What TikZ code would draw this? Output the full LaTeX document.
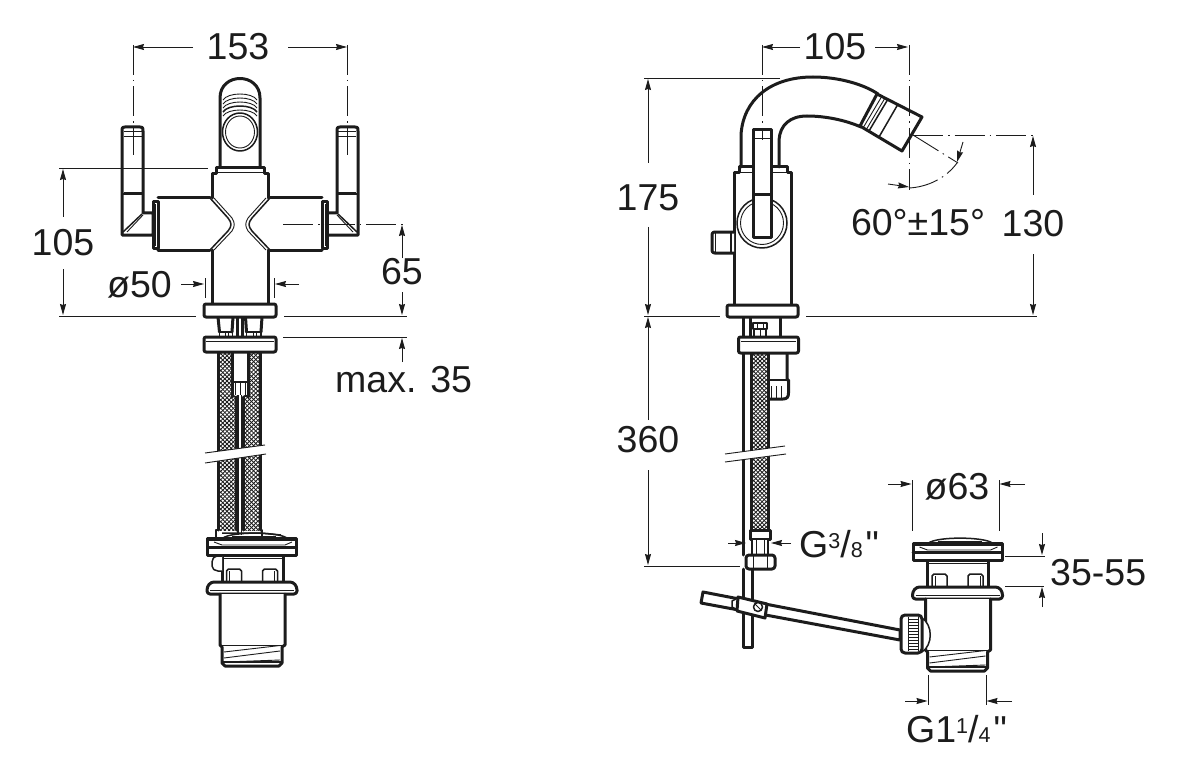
\documentclass[tikz,border=0pt]{standalone}
\usepackage{fontspec}
\setmainfont{Liberation Sans}
\newfontfamily\plainfont{Liberation Sans}
\usetikzlibrary{arrows.meta}
\definecolor{ink}{HTML}{1C1C1C}
\newcommand{\dimfont}{\fontsize{37.5}{37.5}\selectfont}
\newcommand{\smallfig}{\fontsize{21.5}{21.5}\selectfont}
\newcommand{\inchmark}{\hspace{3pt}{\plainfont\dimfont"}}
\tikzset{
  hv/.style={draw=ink,line width=3pt,line join=round,line cap=round},
  md/.style={draw=ink,line width=1.5pt,line join=round},
  tn/.style={draw=ink,line width=0.9pt},
  dimline/.style={draw=ink,line width=0.9pt},
  arr/.style={dimline,-{Stealth[length=11pt,width=6pt,inset=1pt]}},
  cen/.style={draw=ink,line width=0.9pt,dash pattern=on 30pt off 5pt on 1.5pt off 5pt},
  lab/.style={text=ink,inner sep=0pt,font=\dimfont},
}
% braided hose rectangle: x1 y1 x2 y2
\newcommand{\meshrect}[4]{%
  \begin{scope}
    \clip (#1,#2) rectangle (#3,#4);
    \fill[white] (#1,#2) rectangle (#3,#4);
    \foreach \k in {-50,...,50}{
      \draw[ink,line width=0.8pt] ({#1+\k*4.2},#2) -- ++(200,200);
      \draw[ink,line width=0.8pt] ({#3-\k*4.2},#2) -- ++(-200,200);
    }
  \end{scope}
}
% pop-up waste, drawn at the left-hand position
\newcommand{\wasteunit}{%
  \draw[hv,fill=white] (222,555) -- (222,582) -- (283,582) -- (283,555) -- cycle;
  \draw[tn] (222,558) -- (283,558);
  \draw[md] (226.5,582) -- (226.5,571) -- ++(2,-2) -- (239.5,569) -- ++(2,2) -- (241.5,582);
  \draw[md] (262.5,582) -- (262.5,571) -- ++(2,-2) -- (275.5,569) -- ++(2,2) -- (277.5,582);
  \draw[tn] (229.5,571) -- (229.5,582) (274.5,571) -- (274.5,582);
  \draw[md] (223,538) .. controls (232,531.5) and (277,531.5) .. (287,538);
  \draw[tn] (232,536) -- (276,536);
  \draw[hv,fill=white] (207.5,538.5) -- (296.5,538.5) -- (296.5,555) -- (207.5,555) -- cycle;
  \draw[md] (207.5,539.8) -- (296.5,539.8);
  \draw[tn] (214,542) -- (222,545) -- (285,545) -- (292,542);
  \draw[hv] (207.5,547.5) -- (296.5,547.5);
  \draw[hv,fill=white,rounded corners=3pt] (207,594) -- (207,587) -- (211,582) -- (293,582) -- (297,587) -- (297,594) -- cycle;
  \draw[tn] (210,590) -- (294,590);
  \draw[hv,fill=white] (220,594) -- (220,645) -- (222,647) -- (222,663) -- (225,666) -- (279,666) -- (282,663) -- (282,647) -- (285,645) -- (285,594);
  \draw[tn] (221,645) -- (284,645);
  \draw[tn] (224,652) -- (280,645.5) (224,658) -- (280,651) (224,662) -- (280,660);
  \draw[md] (223,662) -- (281,662);
}
% one lever and half arm of the two-handle mixer
\newcommand{\halfmixer}{%
  \draw[hv,fill=white] (122,131) .. controls (122,127) and (123,127) .. (125,127) -- (140,127) .. controls (142,127) and (143,127) .. (143,131) -- (143,213) -- (153,213) -- (153,235) -- (122,235) -- cycle;
  \draw[md] (123,232) -- (142,214);
  \draw[tn] (124,131) -- (142,131) (124,136) -- (142,136) (124,192) -- (142,192);
  \draw[md] (122,194) -- (143,194);
  \draw[tn] (127,232) -- (143,215);
  \draw[hv,fill=white] (153,202) -- (158,202) -- (158,248) -- (153,248) -- cycle;
  \draw[tn] (155,204) -- (155,246);
  \draw[hv] (158,198) -- (210,198) (158,250) -- (210,250);
  \draw[md] (210,198) -- (228,218) .. controls (232,223) and (232,226) .. (228,231) -- (210,250);
  \draw[tn] (214,198) -- (232,218) .. controls (235,223) and (235,226) .. (232,231) -- (214,250);
}
\begin{document}
\begin{tikzpicture}[x=1pt,y=-1pt]
\useasboundingbox (0,0) rectangle (1183,778);
\fill[white] (0,0) rectangle (1183,778);

%%%%%%%%%%%% LEFT MIXER
% hoses
\meshrect{219}{352}{235}{530}
\meshrect{244}{352}{259}{530}
\draw[hv] (218,352) -- (218,530) (236,397) -- (236,530) (243,397) -- (243,530) (260,352) -- (260,530);
\draw[md] (238,395) -- (238,535) (241.5,395) -- (241.5,535);
% centre fitting between hoses
\fill[white] (232,353) rectangle (248,395);
\draw[hv] (232,353) -- (232,397) (248.5,353) -- (248.5,397);
\draw[md] (231,382) -- (249,382);
\draw[md] (231,395) -- (236,397) (249,395) -- (243,397);
\draw[tn] (235,382) -- (235,395) (245,382) -- (245,395) (240,382) -- (240,395);
% break
\fill[white] (205,453) -- (265,445) -- (266,454) -- (205,463) -- cycle;
\draw[tn] (205,453) -- (265,445) (205,463) -- (266,454);
% spout
\draw[hv,fill=white] (220,167) -- (220,98) .. controls (220,72) and (260,72) .. (260,98) -- (260,167);
\draw[tn] (223,100) .. controls (228,92) and (252,92) .. (257,100);
\draw[tn] (223,104) .. controls (228,96) and (252,96) .. (257,104);
\draw[tn] (223,108) .. controls (228,100) and (252,100) .. (257,108);
\draw[md] (223,112) .. controls (228,104) and (252,104) .. (257,112);
\draw[tn] (223,116) .. controls (228,108) and (252,108) .. (257,116);
\draw[md,fill=white] (240,132) ellipse [x radius=17.5pt,y radius=19pt];
\draw[tn] (240,132) ellipse [x radius=14.5pt,y radius=16pt];
% body
\draw[hv] (212,198) -- (212,174) -- (216,174) -- (216,168) -- (264,168) -- (264,174) -- (268,174) -- (268,198);
\draw[tn] (216,172) -- (264,172);
\draw[hv] (212,250) -- (212,304) (268,250) -- (268,304);
\halfmixer
\begin{scope}[xshift=480pt,xscale=-1]
\halfmixer
\end{scope}
% connections between the flanges
\draw[hv] (218,317) -- (219.5,332) (233,317) -- (232,332);
\draw[hv] (245.5,317) -- (246.5,332) (262,317) -- (261,332);
\draw[md] (219,332) -- (233,332) (246,332) -- (262,332);
\draw[tn] (225,332) -- (225,337) (228,332) -- (228,337) (253,332) -- (253,337) (256,332) -- (256,337);
\draw[md] (219.5,332) -- (219.5,337) (232.5,332) -- (232.5,337) (246.5,332) -- (246.5,337) (261,332) -- (261,337);
\draw[hv] (237.5,317) -- (237.5,337) (242,317) -- (242,337);
\draw[hv,fill=white,rounded corners=2pt] (204,304) rectangle (276,317);
\draw[hv,fill=white,rounded corners=2pt] (204,337) rectangle (276,352);
\draw[tn] (206,341) -- (274,341);
% waste
\wasteunit
\draw[md] (218,530) -- (216,530) -- (216,537) (260,530) -- (262,530) -- (262,537);
\draw[md] (222,533) -- (260,533) -- (281,535);
\draw[md,fill=white,rounded corners=2pt] (222,556) -- (215,556) -- (212,560) -- (212,568) -- (216,571) -- (222,571);

% left dimensions
\draw[cen] (133,45) -- (133,155);
\draw[cen] (347,45) -- (347,155);
\draw[arr] (193,47) -- (133,47);
\draw[arr] (288,47) -- (347,47);
\node[lab] (t153) at (238,46.5) {153};
\draw[dimline] (59,168) -- (208,168) (59,316) -- (196,316);
\draw[arr] (63,217) -- (63,169);
\draw[arr] (63,269) -- (63,315);
\node[lab] (t105a) at (63,243) {105};
\node[lab,anchor=east] (t50) at (172,285) {ø50};
\draw[arr] (181,284) -- (204,284);
\draw[arr] (299,284) -- (275,284);
\draw[dimline] (205,278) -- (205,298) (274,278) -- (274,298);
\draw[cen] (283,224) -- (405,224);
\draw[arr] (402,258) -- (402,225);
\draw[arr] (402,292) -- (402,315);
\node[lab] (t65) at (402,271.5) {65};
\draw[dimline] (284,316) -- (407,316) (283,337) -- (407,337);
\draw[arr] (402,362) -- (402,338);
\node[lab,anchor=base west] (tmax) at (335,392) {max. 35};

%%%%%%%%%%%% RIGHT MIXER
% tube + hose
\meshrect{752}{353}{768}{530}
\draw[hv] (743.5,353) -- (743.5,555) (751,353) -- (751,530) (768.5,353) -- (768.5,530);
\draw[hv] (743.5,569) -- (743.5,647) -- (752,647) -- (752,569);
\draw[hv] (787,353) -- (787,380) -- (788.5,380) -- (788.5,393) .. controls (788.5,397) and (787,399) .. (783,399) -- (769,399);
\draw[md] (769,380) -- (788,380);
\draw[tn] (771,386) -- (771,398) (781,386) -- (781,398) (776,386) -- (776,398);
\fill[white] (725,454) -- (785,446) -- (786,454) -- (725,462) -- cycle;
\draw[tn] (725,454) -- (785,446) (725,462) -- (786,454);
% hose end fitting
\draw[hv,fill=white] (750,530) rectangle (770.5,539);
\draw[md,fill=white] (752,539) rectangle (768,555);
\draw[tn] (756,539) -- (756,555) (764,539) -- (764,555);
\draw[hv,fill=white,rounded corners=3pt] (746,555) rectangle (775,569);
\draw[tn] (753,556) -- (753,568) (767,556) -- (767,568);
% spout
\draw[hv] (741,167) -- (741,135) .. controls (743,100) and (770,77) .. (813,77) .. controls (840,77) and (865,85) .. (878,94);
\draw[hv] (779,167) -- (779,140) .. controls (780,125) and (790,116) .. (807,116) .. controls (825,116) and (845,120) .. (861,127);
\draw[hv,fill=white] (877,94) -- (922,117) -- (902,151) -- (860,126) -- cycle;
\draw[md] (888,99) -- (869,131);
\draw[tn] (885,98) -- (866,130) (882,96) -- (863,128);
\draw[md] (897.5,105) -- (879,137);
% body
\draw[hv] (734,305) -- (734,173) -- (739,173) -- (739,167) -- (787,167) -- (787,173) -- (791,173) -- (791,305);
\draw[tn] (739,172) -- (787,172);
\draw[md,fill=white] (762,223) circle [radius=25pt];
\draw[tn] (762,223) circle [radius=21.5pt];
\draw[hv,fill=white] (753,130) -- (771,130) -- (771,237) -- (753,237) -- cycle;
\draw[tn] (754,138) -- (770,138) (754,193) -- (770,193);
\draw[md] (753,195) -- (771,195);
\draw[hv,fill=white,rounded corners=2.5pt] (734,232) -- (712,232) -- (712,253) -- (734,253);
\draw[tn] (715,233) -- (715,252);
\draw[md] (731,232) -- (731,253);
% connections between the flanges
\draw[hv] (743.5,317) -- (743.5,337) (750.5,317) -- (750.5,337) (780.5,317) -- (780.5,337);
\draw[md] (753,323) rectangle (767,329) (754,329) rectangle (766,337);
\draw[tn] (757,323) -- (757,329) (763,323) -- (763,329) (760,329) -- (760,337);
\draw[hv,fill=white,rounded corners=2pt] (727,305) rectangle (798,317);
\draw[hv,fill=white,rounded corners=2pt] (738.5,337) rectangle (798.5,353);
\draw[tn] (741,341) -- (796,341);

% waste, right-hand one
\begin{scope}[shift={(705.5,5)}]
\wasteunit
\end{scope}
% pull rod
\draw[hv,fill=white] (703,592) -- (900,630) -- (900,640) -- (701,603) -- cycle;
\draw[md,fill=white] (732,601) -- (738,598) -- (738,610) -- (732,607) -- cycle;
\draw[hv,fill=white] (738,597) -- (767,604) -- (765,618) -- (737,611) -- cycle;
\draw[md,fill=white] (758,607) circle [radius=4.5pt];
\draw[tn] (755,604) -- (761,610);
% knob
\draw[md,fill=white] (922,618) .. controls (933,625) and (933,645) .. (922,652);
\draw[hv,fill=white,rounded corners=4pt] (901,615) rectangle (922,653);
\draw[tn] (908,617) -- (908,651) (918,617) -- (918,651);
\foreach \yy in {619,622,...,650}{\draw[tn] (908,\yy) -- (918,\yy);}

% right dimensions
\draw[cen] (762,45) -- (762,140);
\draw[cen] (909,45) -- (909,190);
\draw[arr] (800,47) -- (762,47);
\draw[arr] (875,47) -- (908,47);
\node[lab] (t105b) at (835,47) {105};
\draw[dimline] (644,78) -- (780,78) (644,316) -- (720,316) (806,316) -- (1037,316);
\draw[arr] (648,163) -- (648,79);
\draw[arr] (648,227) -- (648,315);
\node[lab] (t175) at (648,198) {175};
\draw[arr] (648,420) -- (648,317);
\draw[arr] (648,470) -- (648,565);
\node[lab] (t360) at (648,440) {360};
\draw[dimline] (644,566) -- (740,566);
\draw[cen] (913,135) -- (1037,135);
\draw[cen] (913,135) -- (958,163);
\draw[arr] (1033,195) -- (1033,136);
\draw[arr] (1033,254) -- (1033,315);
\node[lab] (t130) at (1033,223.5) {130};
\draw[cen] (909,188) .. controls (928,187) and (946,178) .. (957,163);
\draw[arr] (888,184) -- (909,187);
\draw[arr] (963,142) -- (957,162);
\node[lab] (tang) at (918,222.5) {60°±15°};
\draw[arr] (728,543) -- (746,543);
\draw[arr] (791,543) -- (771,543);
\node[lab,anchor=base west] (tg38) at (799,557) {G\raisebox{9pt}{\smallfig 3}/\smallfig 8\dimfont\inchmark};
\draw[dimline] (912,480) -- (912,531) (999,480) -- (999,531);
\draw[arr] (888,484) -- (911.5,484);
\draw[arr] (1025,484) -- (999.5,484);
\node[lab] (t63) at (957,487) {ø63};
\draw[dimline] (1005,556) -- (1045,556) (1005,586) -- (1044,586);
\draw[arr] (1042,533) -- (1042,555);
\draw[arr] (1042,607) -- (1042,587);
\node[lab,anchor=west] (t3555) at (1050,573) {35-55};
\draw[dimline] (928,675) -- (928,705) (986,675) -- (986,705);
\draw[arr] (905,701) -- (927.5,701);
\draw[arr] (1012,701) -- (986.5,701);
\node[lab,anchor=base west] (tg114) at (906,742) {G1\raisebox{9pt}{\smallfig 1}/\smallfig 4\dimfont\inchmark};
\end{tikzpicture}
\end{document}
